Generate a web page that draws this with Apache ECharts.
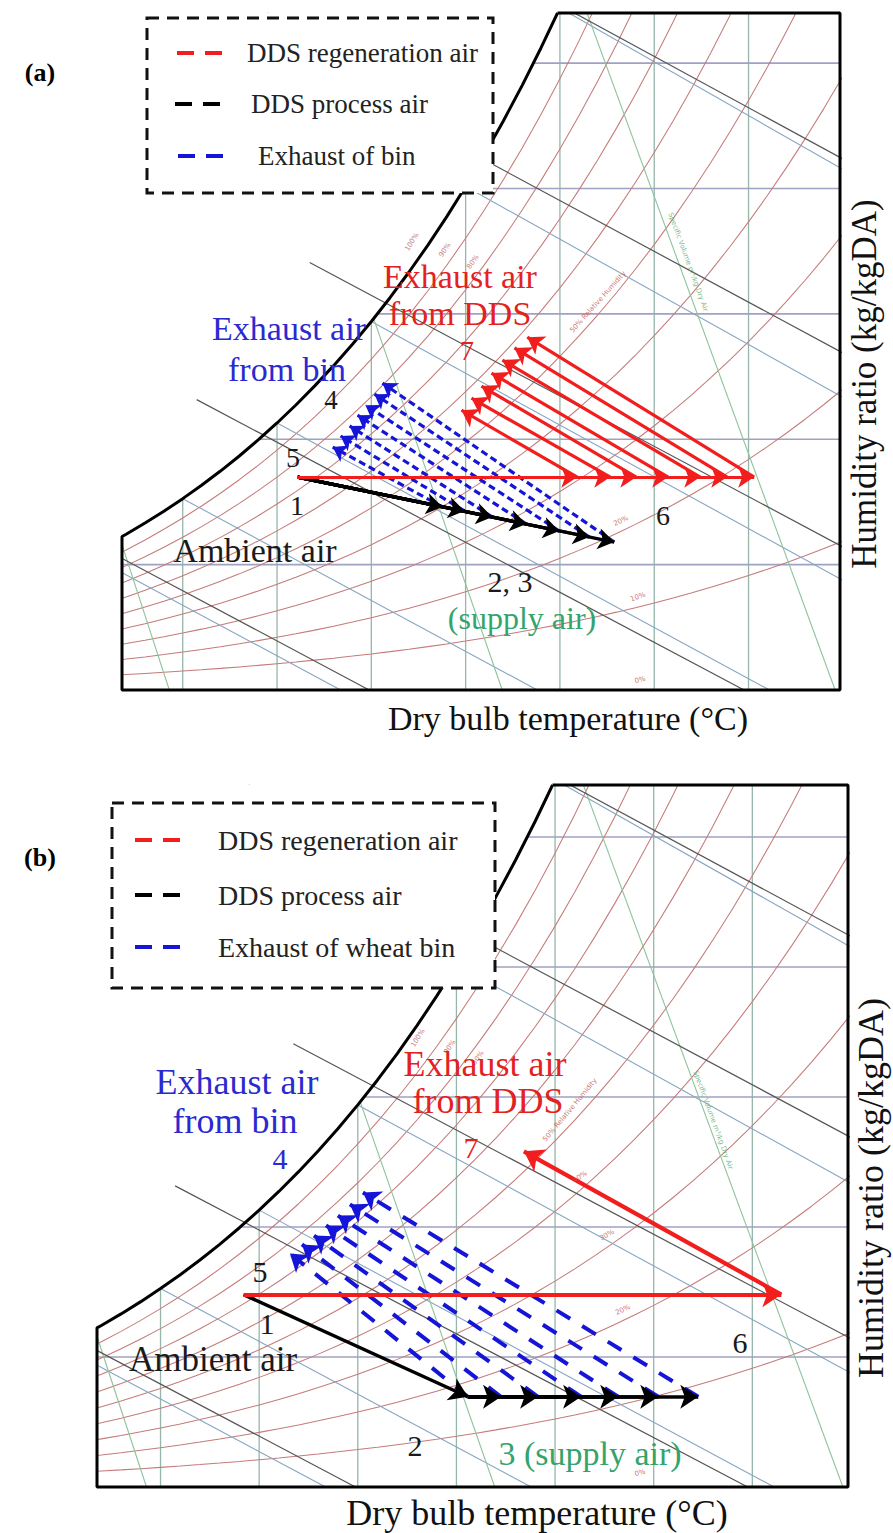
<!DOCTYPE html>
<html>
<head>
<meta charset="utf-8">
<script src="https://cdn.jsdelivr.net/npm/echarts@6/dist/echarts.min.js"></script>
<style>
  html, body { margin: 0; padding: 0; background: #ffffff; }
  #chart { width: 893px; height: 1533px; }
</style>
</head>
<body>
<div id="chart"></div>
<script>
// ---------- psychrometric chart background ----------
const P_ATM = 101.325;            // kPa
const T_MIN = 6.78, T_MAX = 44.85; // dry bulb range, deg C
const W_MAX = 0.027;              // humidity ratio range, kg/kgDA

// saturation pressure of water vapour (kPa) at whole degrees
const satTemps = [5,6,7,8,9,10,11,12,13,14,15,16,17,18,19,20,21,22,23,24,25,
                  26,27,28,29,30,31,32,33,34,35,36,37,38,39,40,41,42,43,44,45];
const satPressure = [0.8725,0.9352,1.0021,1.0730,1.1482,1.2281,1.3129,1.4027,1.4979,1.5988,
                     1.7056,1.8185,1.9380,2.0644,2.1978,2.3388,2.4877,2.6447,2.8104,2.9850,
                     3.1690,3.3629,3.5670,3.7818,4.0078,4.2455,4.4953,4.7578,5.0335,5.3229,
                     5.6267,5.9453,6.2795,6.6298,6.9969,7.3814,7.7840,8.2054,8.6463,9.1075,9.5898];

const rhLevels       = [0.1,0.2,0.3,0.4,0.5,0.6,0.7,0.8,0.9];
const dryBulbLines   = [10,15,20,25,30,35,40];
const humidityLines  = [0.005,0.010,0.015,0.020,0.025];
const enthalpyLevels = [20,40,60,80,100];          // kJ/kgDA
const enthalpyStartT = [5.0,10.74,16.73,22.6,28.5];  // where each enthalpy line begins
const wetBulbLevels  = [5,10,15,20,25,30];
const volumeLevels   = [0.80,0.85,0.90];             // m3/kgDA

// ---------- process states, panel (a) ----------
const ambientA      = [16.09, 0.00849];   // states 1 and 5
const regenOutletTA = [30.92, 32.67, 34.05, 35.74, 37.44, 38.87, 40.30]; // state 6
const regenExhaustA = [[24.78,0.01116],[25.31,0.01164],[25.84,0.01212],[26.37,0.01264],
                       [26.95,0.01316],[27.59,0.01364],[28.27,0.01407]]; // state 7
const supplyA       = [[23.77,0.00730],[24.94,0.00714],[26.42,0.00690],[28.22,0.00662],
                       [29.97,0.00634],[31.56,0.00610],[32.88,0.00590]]; // states 2,3
const binExhaustA   = [[17.95,0.00969],[18.37,0.01013],[18.85,0.01053],[19.27,0.01096],
                       [19.69,0.01136],[20.17,0.01180],[20.59,0.01224]]; // state 4

// ---------- process states, panel (b) ----------
const ambientB      = [14.21, 0.00740];   // states 1 and 5
const regenOutletB  = [41.47, 0.00740];   // state 6
const regenExhaustB = [28.42, 0.01291];   // state 7
const processOutB   = [25.58, 0.00347];   // state 2
const supplyTB      = [25.58, 27.26, 29.14, 31.32, 33.20, 35.23, 37.26]; // state 3
const binExhaustB   = [[16.56,0.00898],[17.17,0.00933],[17.78,0.00967],[18.39,0.01006],
                       [18.99,0.01044],[19.60,0.01087],[20.26,0.01133]]; // state 4

// ---------- helpers ----------
const humidityRatio = pw => 0.622 * pw / (P_ATM - pw);
function pwsAt(t) {
  for (let i = 0; i < satTemps.length - 1; i++) {
    if (t <= satTemps[i + 1]) {
      const f = (t - satTemps[i]) / (satTemps[i + 1] - satTemps[i]);
      return satPressure[i] + f * (satPressure[i + 1] - satPressure[i]);
    }
  }
  return satPressure[satPressure.length - 1];
}
const satW = t => humidityRatio(pwsAt(t));
function satTopT() {
  let lo = T_MIN, hi = 45;
  for (let k = 0; k < 50; k++) {
    const mid = (lo + hi) / 2;
    if (satW(mid) > W_MAX) hi = mid; else lo = mid;
  }
  return lo;
}
const T_TOP = satTopT();
const satCurve = [[T_MIN, satW(T_MIN)]]
  .concat(satTemps.filter(t => t > T_MIN && t < T_TOP).map(t => [t, satW(t)]))
  .concat([[T_TOP, W_MAX]]);

function wetBulbLine(tw) {
  const ws = satW(tw);
  const wAt = t => ((2501 - 2.326 * tw) * ws - 1.006 * (t - tw)) / (2501 + 1.86 * t - 4.186 * tw);
  const tZero = tw + (2501 - 2.326 * tw) * ws / 1.006;
  const tEnd = Math.min(tZero, 46);
  return [[tw, ws], [tEnd, Math.max(wAt(tEnd), 0)]];
}
function enthalpyLine(h, t0) {
  const wAt = t => (h - 1.006 * t) / (2501 + 1.86 * t);
  const tEnd = Math.min(h / 1.006, 46);
  return [[t0, wAt(t0)], [tEnd, Math.max(wAt(tEnd), 0)]];
}
function volumeLine(v) {
  const tAt = w => v * P_ATM / (0.287 * (1 + 1.6078 * w)) - 273.15;
  return [[tAt(0), 0], [tAt(0.03), 0.03]];
}

function panelSeries(gi) {
  const ax = { xAxisIndex: gi, yAxisIndex: gi };
  const out = [];
  const bg = (data, color, width, z) => out.push({
    type: 'line', ...ax, data, showSymbol: false, symbol: 'none', silent: true,
    clip: true, lineStyle: { color, width }, z: z || 1
  });
  dryBulbLines.forEach(t => bg([[t, 0], [t, W_MAX]], '#96b6aa', 1.3));
  humidityLines.forEach(w => bg([[T_MIN, w], [T_MAX, w]], '#9fa2c0', 1.7));
  rhLevels.forEach(rh => bg(satTemps.map((t, i) => [t, humidityRatio(rh * satPressure[i])]), '#c47b79', 1.05));
  wetBulbLevels.forEach(tw => bg(wetBulbLine(tw), '#86a5c2', 1.1));
  volumeLevels.forEach(v => bg(volumeLine(v), '#8fc39c', 1.1));
  // white region above the saturation curve
  out.push({
    type: 'line', ...ax, data: satCurve, showSymbol: false, symbol: 'none', silent: true,
    lineStyle: { opacity: 0 }, areaStyle: { color: '#ffffff', opacity: 1, origin: 'end' }, z: 3
  });
  enthalpyLevels.forEach((h, i) => bg(enthalpyLine(h, enthalpyStartT[i]), '#555555', 1.2, 4));
  // chart outline with the saturation curve
  out.push({
    type: 'line', ...ax, clip: false, showSymbol: false, symbol: 'none', silent: true, z: 5,
    data: [[T_TOP, W_MAX], [T_MAX, W_MAX], [T_MAX, 0], [T_MIN, 0]].concat(satCurve),
    lineStyle: { color: '#000', width: 3 }
  });
  return out;
}

function arrows(gi, pairs, color, width, size, dash, z) {
  return {
    type: 'lines', coordinateSystem: 'cartesian2d', xAxisIndex: gi, yAxisIndex: gi,
    symbol: ['none', 'arrow'], symbolSize: size, silent: true, z: z,
    lineStyle: { color, width, opacity: 1, type: dash || 'solid', curveness: 0 },
    data: pairs.map(p => ({ coords: p }))
  };
}

const RED = '#f21d1d', BLUE = '#1515d8', BLACK = '#000000';

const series = [].concat(
  panelSeries(0), panelSeries(1),
  // panel (a)
  arrows(0, supplyA.map((p, i) => [p, binExhaustA[i]]), BLUE, 3.2, 14, [7, 4], 6),
  arrows(0, supplyA.map(p => [ambientA, p]), BLACK, 3.2, 16, null, 7),
  arrows(0, regenOutletTA.map(t => [ambientA, [t, ambientA[1]]]), RED, 3.2, 16, null, 8),
  arrows(0, regenOutletTA.map((t, i) => [[t, ambientA[1]], regenExhaustA[i]]), RED, 3.2, 16, null, 8),
  // panel (b)
  arrows(1, supplyTB.map((t, i) => [[t, processOutB[1]], binExhaustB[i]]), BLUE, 4, 17, [16, 14], 6),
  arrows(1, [[ambientB, processOutB]], BLACK, 3.5, 18, null, 7),
  arrows(1, supplyTB.slice(1).map(t => [processOutB, [t, processOutB[1]]]), BLACK, 3.5, 18, null, 7),
  arrows(1, [[ambientB, regenOutletB]], RED, 4.2, 19, null, 8),
  arrows(1, [[regenOutletB, regenExhaustB]], RED, 4.2, 19, null, 8)
);

// ---------- text and legend ----------
const SERIF = '"Liberation Serif", "Times New Roman", serif';
function txt(x, y, text, size, color, extra, weight) {
  return Object.assign({
    type: 'text', x, y, z: 100, silent: true,
    style: { text, font: (weight ? weight + ' ' : '') + size + 'px ' + SERIF, fill: color, align: 'center', verticalAlign: 'middle' }
  }, extra || {});
}
function tiny(x, y, text, deg, color) {
  return {
    type: 'text', x, y, z: 20, rotation: deg * Math.PI / 180, silent: true,
    style: { text, font: '7px "DejaVu Sans", sans-serif', fill: color, align: 'center', verticalAlign: 'middle', opacity: 0.8 }
  };
}
function legendBox(x, y, w, h, rows, size) {
  const g = [{
    type: 'rect', z: 90, shape: { x, y, width: w, height: h },
    style: { fill: '#ffffff', stroke: '#111', lineWidth: 3, lineDash: [12, 8] }
  }];
  rows.forEach(r => {
    g.push({ type: 'line', z: 95, shape: { x1: r.x1, y1: r.y, x2: r.x2, y2: r.y },
             style: { stroke: r.color, lineWidth: 4, lineDash: [17, 11] } });
    g.push({ type: 'text', z: 95, x: r.tx, y: r.y,
             style: { text: r.text, font: size + 'px ' + SERIF, fill: '#222', align: 'left', verticalAlign: 'middle' } });
  });
  return g;
}

const RED_TXT = '#e3221f', BLUE_TXT = '#2a2ad0', GREEN_TXT = '#35a36c', RH_TXT = '#c0504d', V_TXT = '#58a86c';

const graphic = [].concat(
  // panel (a)
  [txt(40, 72, '(a)', 26, '#000', null, 'bold')],
  legendBox(147, 18, 346, 175, [
    { y: 53,  x1: 177, x2: 229, tx: 247, color: RED,   text: 'DDS regeneration air' },
    { y: 104, x1: 175, x2: 227, tx: 251, color: BLACK, text: 'DDS process air' },
    { y: 156, x1: 178, x2: 230, tx: 258, color: BLUE,  text: 'Exhaust of bin' }
  ], 27),
  [
    txt(289, 328, 'Exhaust air', 34, BLUE_TXT),
    txt(287, 369, 'from bin', 34, BLUE_TXT),
    txt(331, 400, '4', 27, '#1a1a1a'),
    txt(460, 276, 'Exhaust air', 34, RED_TXT),
    txt(460, 313, 'from DDS', 34, RED_TXT),
    txt(467, 350, '7', 28, RED_TXT),
    txt(293, 457, '5', 28, '#1a1a1a'),
    txt(297, 505, '1', 28, '#1a1a1a'),
    txt(663, 515, '6', 28, '#1a1a1a'),
    txt(255, 550, 'Ambient air', 34, '#1a1a1a'),
    txt(510, 581, '2, 3', 30, '#1a1a1a'),
    txt(522, 618, '(supply air)', 32, GREEN_TXT),
    txt(568, 718, 'Dry bulb temperature (°C)', 34, '#111'),
    txt(864, 384, 'Humidity ratio (kg/kgDA)', 35, '#111', { rotation: Math.PI / 2 }),
    tiny(412, 242, '100%', 58, RH_TXT), tiny(445, 250, '90%', 56, RH_TXT), tiny(473, 262, '80%', 54, RH_TXT),
    tiny(598, 302, '50% Relative Humidity', 48, RH_TXT),
    tiny(688, 262, 'Specific Volume m³/kg Dry Air', -70, V_TXT),
    tiny(621, 521, '20%', 25, RH_TXT), tiny(638, 597, '10%', 20, RH_TXT), tiny(640, 680, '0%', 15, RH_TXT)
  ],
  // panel (b)
  [txt(40, 857, '(b)', 26, '#000', null, 'bold')],
  legendBox(112, 803, 383, 185, [
    { y: 840, x1: 135, x2: 188, tx: 218, color: RED,   text: 'DDS regeneration air' },
    { y: 895, x1: 135, x2: 188, tx: 218, color: BLACK, text: 'DDS process air' },
    { y: 947, x1: 135, x2: 188, tx: 218, color: BLUE,  text: 'Exhaust of wheat bin' }
  ], 28),
  [
    txt(237, 1082, 'Exhaust air', 36, BLUE_TXT),
    txt(235, 1121, 'from bin', 36, BLUE_TXT),
    txt(280, 1158, '4', 30, BLUE_TXT),
    txt(485, 1064, 'Exhaust air', 36, RED_TXT),
    txt(488, 1101, 'from DDS', 36, RED_TXT),
    txt(471, 1147, '7', 30, RED_TXT),
    txt(260, 1271, '5', 30, '#1a1a1a'),
    txt(267, 1323, '1', 30, '#1a1a1a'),
    txt(740, 1342, '6', 30, '#1a1a1a'),
    txt(213, 1359, 'Ambient air', 35, '#1a1a1a'),
    txt(415, 1445, '2', 30, '#1a1a1a'),
    txt(590, 1453, '3 (supply air)', 34, GREEN_TXT),
    txt(537, 1513, 'Dry bulb temperature (°C)', 36, '#111'),
    txt(871, 1188, 'Humidity ratio (kg/kgDA)', 36, '#111', { rotation: Math.PI / 2 }),
    tiny(418, 1038, '100%', 58, RH_TXT), tiny(450, 1047, '90%', 56, RH_TXT), tiny(478, 1058, '80%', 54, RH_TXT),
    tiny(570, 1110, '50% Relative Humidity', 50, RH_TXT),
    tiny(713, 1120, 'Specific Volume m³/kg Dry Air', -70, V_TXT),
    tiny(580, 1177, '40%', 35, RH_TXT), tiny(607, 1235, '30%', 30, RH_TXT),
    tiny(623, 1310, '20%', 25, RH_TXT), tiny(640, 1473, '0%', 15, RH_TXT)
  ]
);

const chart = echarts.init(document.getElementById('chart'), null, { renderer: 'svg' });
chart.setOption({
  animation: false,
  backgroundColor: '#ffffff',
  grid: [
    { left: 122, top: 13, width: 718, height: 677 },
    { left: 97, top: 785, width: 751, height: 702 }
  ],
  xAxis: [0, 1].map(i => ({ gridIndex: i, type: 'value', min: T_MIN, max: T_MAX, show: false })),
  yAxis: [0, 1].map(i => ({ gridIndex: i, type: 'value', min: 0, max: W_MAX, show: false })),
  series,
  graphic
});
</script>
</body>
</html>
